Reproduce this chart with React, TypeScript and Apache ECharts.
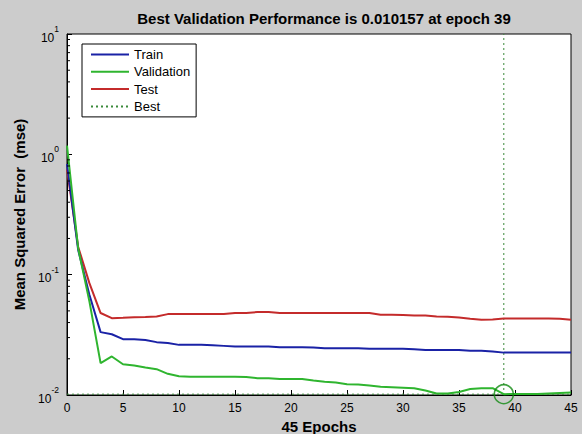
import React, { useEffect, useRef } from "react";
import * as echarts from "echarts";

const epochs = [
  0, 1, 2, 3, 4, 5, 6, 7, 8, 9, 10, 11, 12, 13, 14, 15, 16, 17, 18, 19, 20, 21, 22,
  23, 24, 25, 26, 27, 28, 29, 30, 31, 32, 33, 34, 35, 36, 37, 38, 39, 40, 41, 42, 43, 44, 45,
];

const trainMse = [
  0.83, 0.16, 0.068, 0.0333, 0.032, 0.0291, 0.029, 0.0287, 0.0275, 0.027, 0.0261, 0.0261,
  0.0261, 0.0259, 0.0256, 0.0253, 0.0253, 0.0253, 0.0253, 0.0249, 0.0249, 0.0249, 0.0248,
  0.0245, 0.0245, 0.0245, 0.0245, 0.0242, 0.0242, 0.0242, 0.0242, 0.024, 0.0237, 0.0237,
  0.0237, 0.0237, 0.0233, 0.0233, 0.023, 0.0225, 0.0225, 0.0225, 0.0225, 0.0225, 0.0225, 0.0225,
];

const validationMse = [
  1.18, 0.165, 0.06, 0.0184, 0.0209, 0.018, 0.0176, 0.0169, 0.0164, 0.015, 0.0143, 0.0142,
  0.0142, 0.0142, 0.0142, 0.0142, 0.0141, 0.0138, 0.0138, 0.0136, 0.0136, 0.0136, 0.0132,
  0.0129, 0.0127, 0.0123, 0.0122, 0.012, 0.0117, 0.0116, 0.0115, 0.0114, 0.0109, 0.0103,
  0.0103, 0.0106, 0.0112, 0.0114, 0.0114, 0.010157, 0.0102, 0.0102, 0.0102, 0.0103, 0.0104, 0.0105,
];

const testMse = [
  0.75, 0.17, 0.085, 0.048, 0.0435, 0.0438, 0.0442, 0.0445, 0.045, 0.047, 0.0472, 0.0472,
  0.0472, 0.0472, 0.0472, 0.048, 0.048, 0.0489, 0.0489, 0.048, 0.048, 0.048, 0.048, 0.048,
  0.048, 0.048, 0.048, 0.048, 0.0464, 0.0464, 0.0462, 0.0458, 0.0458, 0.045, 0.0448, 0.044,
  0.043, 0.0422, 0.0425, 0.0432, 0.0432, 0.0432, 0.0432, 0.0432, 0.043, 0.0422,
];

const bestEpoch = 39;
const bestValue = 0.010157;
const xTicks = { min: 0, max: 45, interval: 5 };
const yRange = { min: 0.01, max: 10 };
const minorTickValues = [
  0.02, 0.03, 0.04, 0.05, 0.06, 0.07, 0.08, 0.09, 0.2, 0.3, 0.4, 0.5, 0.6, 0.7, 0.8, 0.9,
  2, 3, 4, 5, 6, 7, 8, 9,
];

const FONT = "'Liberation Sans', Arial, Helvetica, sans-serif";

export default function App() {
  const ref = useRef<HTMLDivElement>(null);
  useEffect(() => {
    if (!ref.current) return;
    const chart = echarts.init(ref.current, null, { renderer: "svg" });
    const pair = (ys: number[]) => epochs.map((e, i) => [e, ys[i]]);
    chart.setOption({
      animation: false,
      backgroundColor: "#cccccc",
      textStyle: { fontFamily: FONT },
      title: {
        text: "Best Validation Performance is " + bestValue + " at epoch " + bestEpoch,
        left: 319,
        textAlign: "center",
        top: 6,
        textStyle: { fontFamily: FONT, fontSize: 15, fontWeight: "bold", color: "#000" },
      },
      legend: {
        data: ["Train", "Validation", "Test", "Best"],
        orient: "vertical",
        left: 82,
        top: 44,
        itemWidth: 38,
        itemHeight: 14,
        itemGap: 4.3,
        padding: [4, 6, 4, 8],
        backgroundColor: "#ffffff",
        borderColor: "#000000",
        borderWidth: 1,
        borderRadius: 0,
        itemStyle: { opacity: 0 },
        textStyle: { fontFamily: FONT, fontSize: 13, color: "#000" },
      },
      grid: {
        left: 67,
        right: 11,
        top: 34,
        bottom: 39,
        containLabel: false,
        outerBoundsMode: "none",
        show: true,
        backgroundColor: "#ffffff",
        borderColor: "#000000",
        borderWidth: 1,
      },
      xAxis: {
        type: "value",
        min: xTicks.min,
        max: xTicks.max,
        interval: xTicks.interval,
        name: epochs.length - 1 + " Epochs",
        nameLocation: "middle",
        nameGap: 21,
        nameTextStyle: { fontFamily: FONT, fontSize: 15, fontWeight: "bold", color: "#000" },
        axisLine: { lineStyle: { color: "#000", width: 1 } },
        axisTick: { inside: true, length: 5, lineStyle: { color: "#000" } },
        axisLabel: { fontFamily: FONT, fontSize: 12, color: "#000", margin: 7 },
        splitLine: { show: false },
      },
      yAxis: {
        type: "log",
        logBase: 10,
        min: yRange.min,
        max: yRange.max,
        name: "Mean Squared Error  (mse)",
        nameLocation: "middle",
        nameGap: 34,
        nameTextStyle: { fontFamily: FONT, fontSize: 15, fontWeight: "bold", color: "#000" },
        axisLine: { lineStyle: { color: "#000", width: 1 } },
        axisTick: { inside: true, length: 5, lineStyle: { color: "#000" } },
        axisLabel: {
          margin: 8,
          formatter: (v: number) => "{b|10}{s|" + Math.round(Math.log10(v)) + "}",
          rich: {
            b: { fontFamily: FONT, fontSize: 12, color: "#000", padding: [7, 0, 0, 0], verticalAlign: "bottom" },
            s: { fontFamily: FONT, fontSize: 8.5, color: "#000", lineHeight: 10, verticalAlign: "top" },
          },
        },
        splitLine: { show: false },
      },
      series: [
        {
          name: "Train",
          type: "line",
          data: pair(trainMse),
          symbol: "none",
          lineStyle: { color: "#1a22a6", width: 2 },
          itemStyle: { color: "#1a22a6" },
          z: 3,
        },
        {
          name: "Validation",
          type: "line",
          data: pair(validationMse),
          symbol: "none",
          lineStyle: { color: "#2fb52f", width: 2 },
          itemStyle: { color: "#2fb52f" },
          z: 4,
        },
        {
          name: "Test",
          type: "line",
          data: pair(testMse),
          symbol: "none",
          lineStyle: { color: "#c42b2b", width: 2 },
          itemStyle: { color: "#c42b2b" },
          z: 2,
        },
        {
          name: "Best",
          type: "line",
          data: [
            [xTicks.min, bestValue],
            [xTicks.max, bestValue],
          ],
          symbol: "none",
          lineStyle: { color: "#3a8a3a", width: 1, type: [2, 3] },
          itemStyle: { color: "#3a8a3a" },
          z: 1,
        },
        {
          name: "Best",
          type: "line",
          data: [
            [bestEpoch, yRange.min],
            [bestEpoch, yRange.max],
          ],
          symbol: "none",
          lineStyle: { color: "#3a8a3a", width: 1, type: [2, 3] },
          itemStyle: { color: "#3a8a3a" },
          z: 1,
        },
        {
          name: "bestPoint",
          type: "scatter",
          data: [[bestEpoch, bestValue]],
          symbol: "circle",
          symbolSize: 19,
          itemStyle: { color: "rgba(0,0,0,0)", borderColor: "#128a12", borderWidth: 1.6 },
          z: 5,
        },
        {
          name: "minorTicks",
          type: "custom",
          silent: true,
          data: minorTickValues.map((v) => [xTicks.min, v]),
          renderItem: (_params: any, api: any) => {
            const p = api.coord([api.value(0), api.value(1)]);
            return {
              type: "line",
              shape: { x1: p[0], y1: p[1], x2: p[0] + 3, y2: p[1] },
              style: { stroke: "#000", lineWidth: 1 },
            };
          },
          z: 6,
        },
      ],
    });
    return () => chart.dispose();
  }, []);
  return <div ref={ref} style={{ width: 582, height: 434, position: "absolute", left: 0, top: 0 }} />;
}
